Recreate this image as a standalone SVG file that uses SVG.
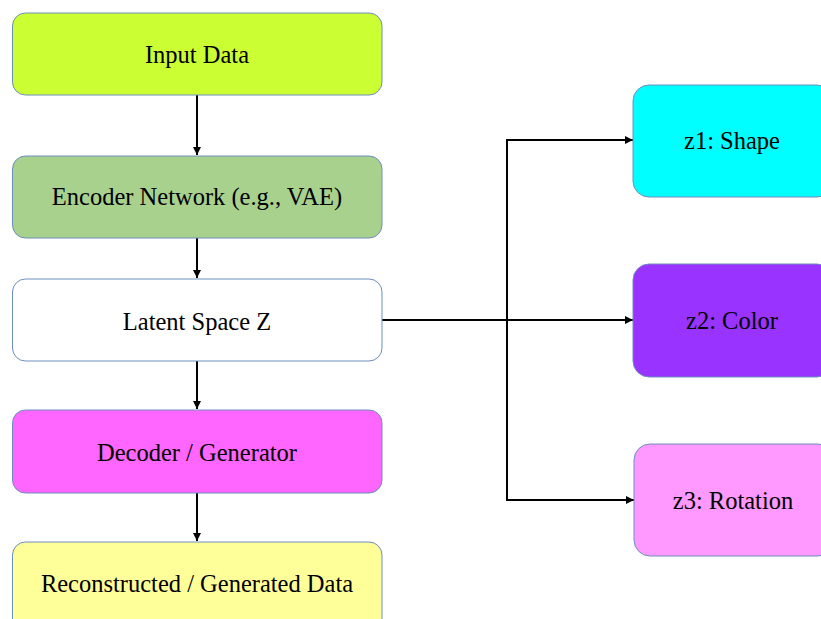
<svg xmlns="http://www.w3.org/2000/svg" width="821" height="619" viewBox="0 0 821 619">
  <style>
    .box { stroke: #6c8ebf; stroke-width: 1; }
    .edge { fill: none; stroke: #000; stroke-width: 2; }
  </style>
  <defs>
    <marker id="arrow" viewBox="0 0 10 10" refX="10" refY="5" markerWidth="4" markerHeight="4" markerUnits="strokeWidth" orient="auto">
      <path d="M0,0 L10,5 L0,10 z" fill="#000"/>
    </marker>
  </defs>
  <rect width="821" height="619" fill="#fff"/>

  <g id="connectors">
    <path class="edge" d="M197,95 V155" marker-end="url(#arrow)"/>
    <path class="edge" d="M197,238 V278" marker-end="url(#arrow)"/>
    <path class="edge" d="M197,361 V409" marker-end="url(#arrow)"/>
    <path class="edge" d="M197,493 V541" marker-end="url(#arrow)"/>
    <path class="edge" d="M382,320 H633" marker-end="url(#arrow)"/>
    <path class="edge" d="M507,320 V140 H633" marker-end="url(#arrow)"/>
    <path class="edge" d="M507,320 V500 H634" marker-end="url(#arrow)"/>
  </g>

  <g font-family="Liberation Serif, Tinos, DejaVu Serif, Times New Roman, serif" font-size="24.5" text-anchor="middle" fill="#000">
    <g id="input">
      <rect class="box" x="12.5" y="13" width="369.5" height="82" rx="13" fill="#ccff33"/>
      <text x="197" y="62.5">Input Data</text>
    </g>
    <g id="encoder">
      <rect class="box" x="12.5" y="156" width="369.5" height="82" rx="13" fill="#a9d18e"/>
      <text x="197" y="205">Encoder Network (e.g., VAE)</text>
    </g>
    <g id="latent">
      <rect class="box" x="12.5" y="279" width="369.5" height="82" rx="13" fill="#ffffff"/>
      <text x="197" y="329.5">Latent Space Z</text>
    </g>
    <g id="decoder">
      <rect class="box" x="12.5" y="410" width="369.5" height="83" rx="13" fill="#ff66ff"/>
      <text x="197" y="461">Decoder / Generator</text>
    </g>
    <g id="reconstructed">
      <rect class="box" x="12.5" y="542" width="369.5" height="90" rx="13" fill="#ffff99"/>
      <text x="197" y="592">Reconstructed / Generated Data</text>
    </g>

    <g id="z1">
      <rect class="box" x="633" y="85" width="200" height="112" rx="16" fill="#00ffff"/>
      <text x="732" y="149">z1: Shape</text>
    </g>
    <g id="z2">
      <rect class="box" x="633" y="264" width="200" height="113" rx="16" fill="#9933ff"/>
      <text x="732" y="329">z2: Color</text>
    </g>
    <g id="z3">
      <rect class="box" x="634" y="444" width="200" height="112" rx="16" fill="#ff99ff"/>
      <text x="733" y="509">z3: Rotation</text>
    </g>
  </g>
</svg>
